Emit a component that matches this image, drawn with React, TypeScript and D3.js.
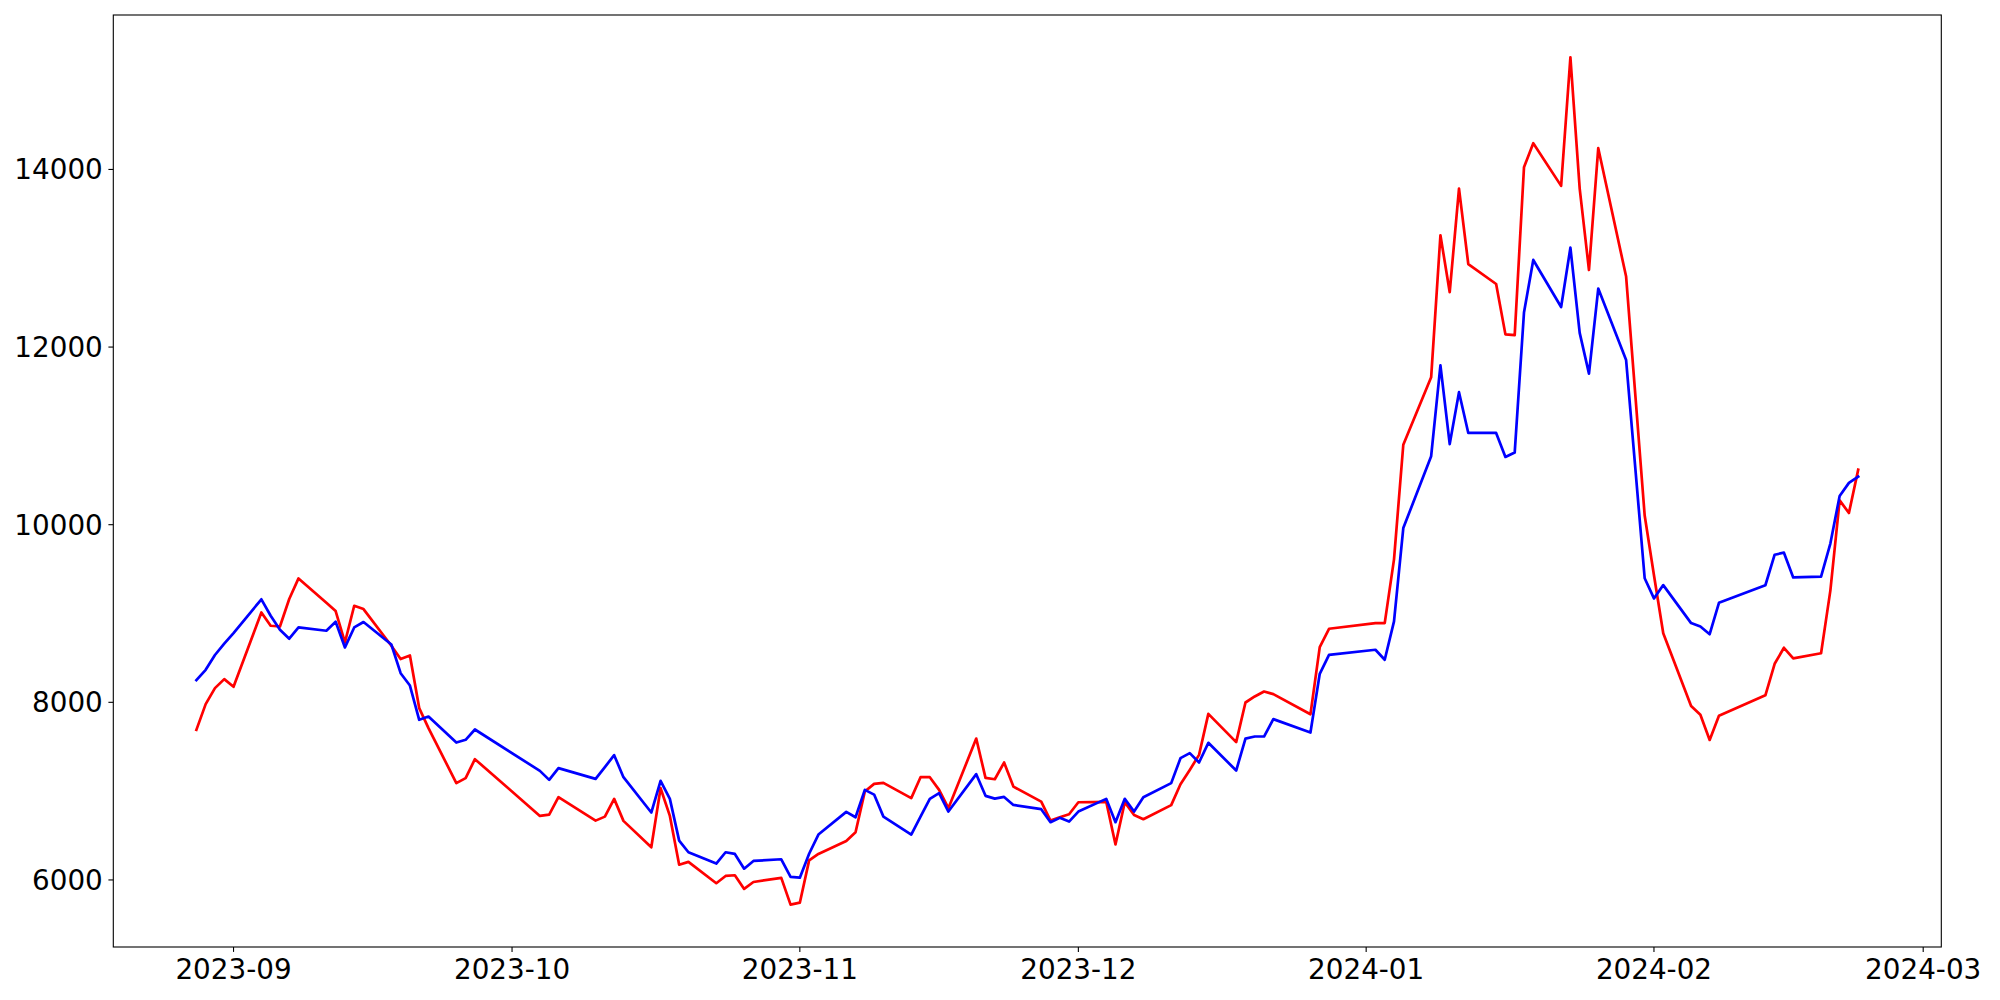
import React from "react";
import * as d3 from "d3";

const dates: string[] = [
  "2023-08-28","2023-08-29","2023-08-30","2023-08-31",
  "2023-09-01","2023-09-04","2023-09-05","2023-09-06","2023-09-07","2023-09-08","2023-09-11","2023-09-12","2023-09-13","2023-09-14","2023-09-15","2023-09-18","2023-09-19","2023-09-20","2023-09-21","2023-09-22","2023-09-25","2023-09-26","2023-09-27",
  "2023-10-04","2023-10-05","2023-10-06","2023-10-10","2023-10-11","2023-10-12","2023-10-13","2023-10-16","2023-10-17","2023-10-18","2023-10-19","2023-10-20","2023-10-23","2023-10-24","2023-10-25","2023-10-26","2023-10-27","2023-10-30","2023-10-31",
  "2023-11-01","2023-11-02","2023-11-03","2023-11-06","2023-11-07","2023-11-08","2023-11-09","2023-11-10","2023-11-13","2023-11-14","2023-11-15","2023-11-16","2023-11-17","2023-11-20","2023-11-21","2023-11-22","2023-11-23","2023-11-24","2023-11-27","2023-11-28","2023-11-29","2023-11-30",
  "2023-12-01","2023-12-04","2023-12-05","2023-12-06","2023-12-07","2023-12-08","2023-12-11","2023-12-12","2023-12-13","2023-12-14","2023-12-15","2023-12-18","2023-12-19","2023-12-20","2023-12-21","2023-12-22","2023-12-26","2023-12-27","2023-12-28",
  "2024-01-02","2024-01-03","2024-01-04","2024-01-05","2024-01-08","2024-01-09","2024-01-10","2024-01-11","2024-01-12","2024-01-15","2024-01-16","2024-01-17","2024-01-18","2024-01-19","2024-01-22","2024-01-23","2024-01-24","2024-01-25","2024-01-26","2024-01-29","2024-01-30","2024-01-31",
  "2024-02-01","2024-02-02","2024-02-05","2024-02-06","2024-02-07","2024-02-08","2024-02-13","2024-02-14","2024-02-15","2024-02-16","2024-02-19","2024-02-20","2024-02-21","2024-02-22","2024-02-23",
];

const redValues: number[] = [
  7690, 7980, 8160, 8261,
  8175, 9012, 8862, 8854, 9163, 9395, 9122, 9027, 8674, 9087, 9050, 8637, 8487, 8527, 7935, 7710, 7090, 7146, 7360,
  6721, 6736, 6932, 6668, 6713, 6913, 6665, 6368, 7033, 6721, 6172, 6203, 5963, 6045, 6053, 5899, 5977, 6023, 5722,
  5744, 6220, 6293, 6439, 6537, 6996, 7082, 7093, 6921, 7157, 7157, 7014, 6808, 7592, 7149, 7134, 7322, 7051, 6882, 6668, 6706, 6740,
  6875, 6880, 6400, 6875, 6732, 6684, 6842, 7078, 7239, 7408, 7870, 7552, 7998, 8066, 8122, 8092, 7866, 8622, 8828,
  8892, 8892, 9610, 10900, 11659, 13259, 12618, 13785, 12935, 12710, 12143, 12134, 14024, 14295, 13815, 15262, 13785, 12868, 14239, 12794, 11450, 10103,
  9430, 8777, 7958, 7860, 7576, 7849, 8079, 8434, 8614, 8494, 8553, 9258, 10274, 10132, 10619,
];

const blueValues: number[] = [
  8250, 8366, 8533, 8660,
  8780, 9160, 8975, 8817, 8716, 8843, 8806, 8907, 8618, 8843, 8904, 8651, 8328, 8189, 7803, 7840, 7547, 7578, 7694,
  7228, 7127, 7259, 7138, 7271, 7405, 7157, 6759, 7116, 6913, 6443, 6312, 6184, 6312, 6293, 6127, 6214, 6233, 6034,
  6026, 6295, 6511, 6766, 6706, 7014, 6961, 6713, 6511, 6713, 6913, 6977, 6770, 7191, 6947, 6916, 6935, 6845, 6797, 6650, 6699, 6657,
  6770, 6913, 6650, 6913, 6770, 6932, 7090, 7371, 7428, 7322, 7544, 7232, 7592, 7615, 7615, 7811, 7660, 8321, 8535,
  8592, 8479, 8911, 9962, 10771, 11793, 10908, 11492, 11033, 11033, 10763, 10812, 12389, 12981, 12451, 13119, 12160, 11701, 12659, 11854, 10625, 9397,
  9170, 9320, 8892, 8854, 8767, 9121, 9318, 9662, 9685, 9406, 9416, 9788, 10324, 10471, 10542,
];

const yTicks: number[] = [6000, 8000, 10000, 12000, 14000];
const xTickLabels: string[] = ["2023-09", "2023-10", "2023-11", "2023-12", "2024-01", "2024-02", "2024-03"];

const W = 2000;
const H = 1000;
const L = 113.3;
const R = 1941.3;
const T = 15;
const B = 947;

export default function App() {
  const parse = d3.utcParse("%Y-%m-%d");
  const parsedDates = dates.map((d) => parse(d) as Date);
  const t0 = parsedDates[0].getTime();
  const t1 = parsedDates[parsedDates.length - 1].getTime();
  const tm = (t1 - t0) * 0.05;
  const x = d3.scaleUtc().domain([new Date(t0 - tm), new Date(t1 + tm)]).range([L, R]);

  const all = redValues.concat(blueValues);
  const vmin = d3.min(all) as number;
  const vmax = d3.max(all) as number;
  const vm = (vmax - vmin) * 0.05;
  const y = d3.scaleLinear().domain([vmin - vm, vmax + vm]).range([B, T]);

  const line = d3
    .line<number>()
    .x((_, i) => x(parsedDates[i]))
    .y((v) => y(v));

  const monthParse = d3.utcParse("%Y-%m");
  const xTicks = xTickLabels.map((s) => ({ s, d: monthParse(s) as Date }));

  const font = "'DejaVu Sans', sans-serif";
  const fs = 27.8;

  return (
    <svg
      width={W}
      height={H}
      style={{ position: "absolute", left: 0, top: 0, background: "#fff" }}
      xmlns="http://www.w3.org/2000/svg"
    >
      <rect x={0} y={0} width={W} height={H} fill="#fff" />
      <defs>
        <clipPath id="clip">
          <rect x={L} y={T} width={R - L} height={B - T} />
        </clipPath>
      </defs>
      <g clipPath="url(#clip)">
        <path d={line(redValues) || ""} fill="none" stroke="#ff0000" strokeWidth={2.7} strokeLinejoin="round" strokeLinecap="square" />
        <path d={line(blueValues) || ""} fill="none" stroke="#0000ff" strokeWidth={2.7} strokeLinejoin="round" strokeLinecap="square" />
      </g>
      <rect x={L} y={T} width={R - L} height={B - T} fill="none" stroke="#000" strokeWidth={1.1} />
      {yTicks.map((v) => (
        <g key={v}>
          <line x1={L - 4.9} x2={L} y1={y(v)} y2={y(v)} stroke="#000" strokeWidth={1.1} />
          <text x={L - 10.5} y={y(v)} dy="0.36em" textAnchor="end" fontFamily={font} fontSize={fs} fill="#000">
            {v}
          </text>
        </g>
      ))}
      {xTicks.map(({ s, d }) => (
        <g key={s}>
          <line x1={x(d)} x2={x(d)} y1={B} y2={B + 4.9} stroke="#000" strokeWidth={1.1} />
          <text x={x(d)} y={B + 32} textAnchor="middle" fontFamily={font} fontSize={fs} fill="#000">
            {s}
          </text>
        </g>
      ))}
    </svg>
  );
}
